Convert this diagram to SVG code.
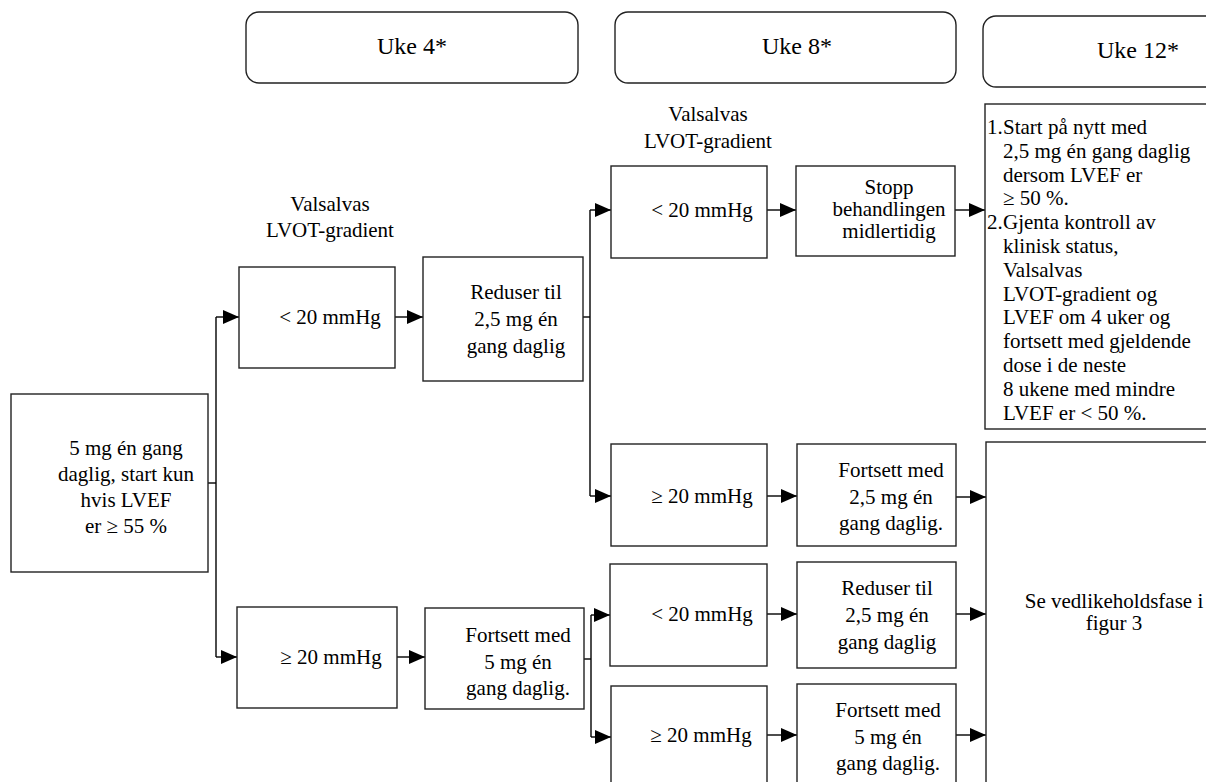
<svg xmlns="http://www.w3.org/2000/svg" width="1206" height="782" viewBox="0 0 1206 782" font-family="'Liberation Serif', 'DejaVu Serif', serif">
<defs>
<style>
.box{fill:#fff;stroke:#222;stroke-width:1.4}
.hdr{fill:#fff;stroke:#222;stroke-width:1.4}
text{font-family:'Liberation Serif', 'DejaVu Serif', serif;font-size:21px;fill:#000}
.c{text-anchor:middle}
.h{font-size:24px;text-anchor:middle}
.ln{fill:none;stroke:#000;stroke-width:1.4}
</style>
<marker id="ah" viewBox="0 0 16 14" refX="16" refY="7" markerWidth="16" markerHeight="14" markerUnits="userSpaceOnUse" orient="auto">
<path d="M0,0 L16,7 L0,14 Z" fill="#000"/>
</marker>
</defs>
<rect width="1206" height="782" fill="#fff"/>

<g id="headers">
<g id="uke4"><rect class="hdr" x="246" y="12" width="332" height="71" rx="13"/><text class="h" x="412" y="54">Uke 4*</text></g>
<g id="uke8"><rect class="hdr" x="615" y="12" width="341" height="71" rx="13"/><text class="h" x="797" y="54">Uke 8*</text></g>
<g id="uke12"><rect class="hdr" x="983" y="16" width="250" height="71" rx="13"/><text class="h" x="1138" y="58">Uke 12*</text></g>
</g>

<g id="labels">
<text class="c" x="330" y="211">Valsalvas</text>
<text class="c" x="330" y="237">LVOT-gradient</text>
<text class="c" x="708" y="121">Valsalvas</text>
<text class="c" x="708" y="148">LVOT-gradient</text>
</g>

<g id="connectors">
<polyline class="ln" points="208,483 216,483"/>
<polyline class="ln" points="216,317 216,657"/>
<polyline class="ln" points="216,317 239,317" marker-end="url(#ah)"/>
<polyline class="ln" points="216,657 237,657" marker-end="url(#ah)"/>
<polyline class="ln" points="395,317 423,317" marker-end="url(#ah)"/>
<polyline class="ln" points="583,317 590,317"/>
<polyline class="ln" points="590,210 590,496"/>
<polyline class="ln" points="590,210 611,210" marker-end="url(#ah)"/>
<polyline class="ln" points="590,496 611,496" marker-end="url(#ah)"/>
<polyline class="ln" points="767,210 796,210" marker-end="url(#ah)"/>
<polyline class="ln" points="955,210 985,210" marker-end="url(#ah)"/>
<polyline class="ln" points="767,496 797,496" marker-end="url(#ah)"/>
<polyline class="ln" points="956,497 986,497" marker-end="url(#ah)"/>
<polyline class="ln" points="397,657 425,657" marker-end="url(#ah)"/>
<polyline class="ln" points="584,659 591,659"/>
<polyline class="ln" points="591,615 591,737"/>
<polyline class="ln" points="591,615 610,615" marker-end="url(#ah)"/>
<polyline class="ln" points="591,737 611,737" marker-end="url(#ah)"/>
<polyline class="ln" points="767,614 797,614" marker-end="url(#ah)"/>
<polyline class="ln" points="956,614 986,614" marker-end="url(#ah)"/>
<polyline class="ln" points="767,735 797,735" marker-end="url(#ah)"/>
<polyline class="ln" points="956,735 986,735" marker-end="url(#ah)"/>
</g>

<g id="start"><rect class="box" x="11" y="394" width="197" height="178"/>
<text class="c" x="126" y="455">5 mg én gang</text>
<text class="c" x="126" y="481">daglig, start kun</text>
<text class="c" x="126" y="507">hvis LVEF</text>
<text class="c" x="126" y="533">er ≥ 55 %</text></g>

<g id="lt20a"><rect class="box" x="239" y="267" width="156" height="101"/><text class="c" x="330" y="324">&lt; 20 mmHg</text></g>
<g id="ge20a"><rect class="box" x="237" y="607" width="160" height="101"/><text class="c" x="331" y="664">≥ 20 mmHg</text></g>

<g id="reduce1"><rect class="box" x="423" y="257" width="160" height="124"/>
<text class="c" x="516" y="299">Reduser til</text>
<text class="c" x="516" y="326">2,5 mg én</text>
<text class="c" x="516" y="353">gang daglig</text></g>

<g id="cont5a"><rect class="box" x="425" y="608" width="159" height="101"/>
<text class="c" x="518" y="642">Fortsett med</text>
<text class="c" x="518" y="669">5 mg én</text>
<text class="c" x="518" y="695">gang daglig.</text></g>

<g id="lt20b"><rect class="box" x="611" y="166" width="156" height="92"/><text class="c" x="702" y="217">&lt; 20 mmHg</text></g>
<g id="ge20b"><rect class="box" x="611" y="444" width="156" height="102"/><text class="c" x="702" y="503">≥ 20 mmHg</text></g>
<g id="lt20c"><rect class="box" x="610" y="564" width="157" height="102"/><text class="c" x="702" y="621">&lt; 20 mmHg</text></g>
<g id="ge20c"><rect class="box" x="611" y="686" width="156" height="110"/><text class="c" x="701" y="742">≥ 20 mmHg</text></g>

<g id="stop"><rect class="box" x="796" y="166" width="159" height="90"/>
<text class="c" x="889" y="194">Stopp</text>
<text class="c" x="889" y="216">behandlingen</text>
<text class="c" x="889" y="238">midlertidig</text></g>

<g id="cont25"><rect class="box" x="797" y="444" width="159" height="102"/>
<text class="c" x="891" y="477">Fortsett med</text>
<text class="c" x="891" y="504">2,5 mg én</text>
<text class="c" x="891" y="530">gang daglig.</text></g>

<g id="reduce2"><rect class="box" x="797" y="562" width="159" height="106"/>
<text class="c" x="887" y="595">Reduser til</text>
<text class="c" x="887" y="622">2,5 mg én</text>
<text class="c" x="887" y="649">gang daglig</text></g>

<g id="cont5b"><rect class="box" x="797" y="684" width="159" height="112"/>
<text class="c" x="888" y="717">Fortsett med</text>
<text class="c" x="888" y="744">5 mg én</text>
<text class="c" x="888" y="770">gang daglig.</text></g>

<g id="restart"><rect class="box" x="985" y="104" width="235" height="325"/>
<text x="987" y="134">1.</text><text x="1003" y="134">Start på nytt med</text>
<text x="1003" y="157.8">2,5 mg én gang daglig</text>
<text x="1003" y="181.6">dersom LVEF er</text>
<text x="1003" y="205.4">≥ 50 %.</text>
<text x="987" y="229.2">2.</text><text x="1003" y="229.2">Gjenta kontroll av</text>
<text x="1003" y="253">klinisk status,</text>
<text x="1003" y="276.8">Valsalvas</text>
<text x="1003" y="300.6">LVOT-gradient og</text>
<text x="1003" y="324.4">LVEF om 4 uker og</text>
<text x="1003" y="348.2">fortsett med gjeldende</text>
<text x="1003" y="372">dose i de neste</text>
<text x="1003" y="395.8">8 ukene med mindre</text>
<text x="1003" y="419.6">LVEF er &lt; 50 %.</text></g>

<g id="maintenance"><rect class="box" x="986" y="442" width="250" height="360"/>
<text class="c" x="1114" y="608">Se vedlikeholdsfase i</text>
<text class="c" x="1114" y="630">figur 3</text></g>
</svg>
